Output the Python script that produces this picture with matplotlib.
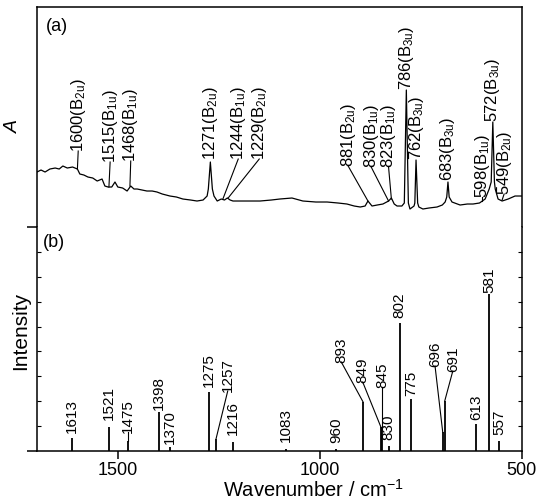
import matplotlib
matplotlib.use('Agg')
import matplotlib.pyplot as plt
from matplotlib.ticker import FixedLocator, NullLocator

plt.rcParams['font.family'] = ['Liberation Sans', 'DejaVu Sans']
plt.rcParams['mathtext.fontset'] = 'custom'
plt.rcParams['mathtext.rm'] = 'Liberation Sans'
plt.rcParams['mathtext.it'] = 'Liberation Sans:italic'

# (a) measured spectrum, wavenumber vs absorbance (arb. units)
spec_w = [1700, 1690, 1680, 1668, 1655, 1645, 1636, 1625, 1612, 1600, 1594, 1584,
          1574, 1562, 1551, 1539, 1532, 1524, 1515, 1507, 1500, 1488, 1477, 1468,
          1460, 1452, 1440, 1428, 1415, 1403, 1390, 1371, 1355, 1339, 1320, 1304,
          1289, 1279, 1276, 1271, 1266, 1262, 1254, 1244, 1236, 1229, 1222, 1215,
          1180, 1148, 1120, 1099, 1069, 1042, 1010, 982, 955, 933, 915, 900, 888,
          881, 871, 858, 844, 830, 823, 816, 809, 797, 791, 786, 781, 777, 767,
          765, 762, 758, 755, 745, 730, 710, 697, 690, 686, 683, 680, 673, 653,
          635, 621, 605, 598, 591, 581, 576, 572, 568, 566, 559, 549, 534, 517, 500]
spec_a = [55, 57, 55, 58, 59, 58, 61, 59, 60, 58, 53, 52,
          50, 49, 46, 48, 41, 40, 40, 45, 40, 39, 36, 41,
          38, 38, 37, 36, 36, 35, 33, 31, 30, 28, 27, 26,
          27, 31, 38, 65, 38, 31, 26, 28, 27, 29, 27, 26,
          26, 26, 27, 28, 29, 26, 25, 25, 24, 23, 21, 20, 21,
          26, 21, 22, 23, 26, 29, 23, 21, 21, 24, 137, 24, 18, 21,
          24, 67, 24, 20, 18, 19, 20, 22, 25, 30, 45, 30, 25, 22,
          23, 23, 24, 26, 28, 38, 45, 105, 45, 38, 28, 26, 28, 31, 31]

peak_labels = ['1600(B$_{\\mathrm{2u}}$)', '1515(B$_{\\mathrm{1u}}$)', '1468(B$_{\\mathrm{1u}}$)',
               '1271(B$_{\\mathrm{2u}}$)', '1244(B$_{\\mathrm{1u}}$)', '1229(B$_{\\mathrm{2u}}$)',
               '881(B$_{\\mathrm{2u}}$)', '830(B$_{\\mathrm{1u}}$)', '823(B$_{\\mathrm{1u}}$)',
               '786(B$_{\\mathrm{3u}}$)', '762(B$_{\\mathrm{3u}}$)', '683(B$_{\\mathrm{3u}}$)',
               '598(B$_{\\mathrm{1u}}$)', '572(B$_{\\mathrm{3u}}$)', '549(B$_{\\mathrm{2u}}$)']
peak_pos = [1600, 1522, 1470, 1271, 1240, 1227, 881, 830, 823, 786, 762, 683, 598, 572, 549]
peak_val = [58, 40, 41, 65, 28, 29, 26, 26, 28, 137, 67, 45, 26, 105, 27]
peak_text_x = [1598, 1519, 1468, 1271, 1202, 1150, 930, 873, 830, 786, 761, 683, 598, 572, 544]
peak_text_y = [76, 65, 66, 68, 68, 68, 61, 60, 60, 138, 68, 47, 30, 106, 33]

# (b) calculated sticks
stick_w = [1613, 1521, 1475, 1398, 1370, 1275, 1257, 1216, 1083, 960, 893,
           849, 845, 830, 802, 775, 696, 691, 613, 581, 557]
stick_h = [13, 24, 10, 39, 4, 59, 12, 9, 2, 2, 49,
           24, 24, 5, 128, 52, 19, 50, 27, 157, 10]
stick_text_x = [1613, 1521, 1475, 1398, 1370, 1275, 1228, 1216, 1083, 960, 947,
                894, 845, 830, 802, 775, 715, 671, 613, 581, 557]
stick_text_y = [19, 32, 19, 42, 8, 65, 60, 17, 10, 9, 89,
                69, 64, 12, 134, 56, 85, 80, 32, 159, 17]

fig = plt.figure(figsize=(5.4, 5.02), dpi=100)
ax_a = fig.add_axes([0.0685, 0.5458, 0.898, 0.4382])
ax_b = fig.add_axes([0.0685, 0.0996, 0.898, 0.4462])

for ax in (ax_a, ax_b):
    ax.set_xlim(1700, 500)
    for s in ax.spines.values():
        s.set_linewidth(1.1)

# ---- panel (a)
ax_a.plot(spec_w, spec_a, color='black', lw=0.9)
ax_a.set_ylim(0, 220)
ax_a.spines['bottom'].set_visible(False)
ax_a.xaxis.set_major_locator(NullLocator())
ax_a.yaxis.set_major_locator(NullLocator())
for lab, px, pv, tx, ty in zip(peak_labels, peak_pos, peak_val, peak_text_x, peak_text_y):
    if ty - pv > 3 or abs(tx - px) > 2:
        ax_a.plot([px, tx], [pv, ty], color='black', lw=0.8)
    ax_a.text(tx, ty, lab, rotation=90, ha='center', va='bottom', fontsize=12)
ax_a.text(0.018, 0.955, '(a)', transform=ax_a.transAxes, ha='left', va='top', fontsize=13)
ax_a.set_ylabel('A', fontsize=14, style='italic')
ax_a.yaxis.set_label_coords(-0.031, 0.46)

# ---- panel (b)
ax_b.vlines(stick_w, 0, stick_h, color='black', lw=1.3)
ax_b.set_ylim(0, 224)
ax_b.spines['top'].set_visible(False)
for lab, sx, sh, tx, ty in zip(stick_w, stick_w, stick_h, stick_text_x, stick_text_y):
    if abs(tx - sx) > 2 or ty - sh > 8:
        ax_b.plot([sx, tx], [sh, ty], color='black', lw=0.8)
    ax_b.text(tx, ty, str(lab), rotation=90, ha='center', va='bottom', fontsize=11)
ax_b.text(0.012, 0.975, '(b)', transform=ax_b.transAxes, ha='left', va='top', fontsize=13)

ax_b.set_xticks([1500, 1000, 500])
ax_b.tick_params(axis='x', which='major', direction='out', length=6, width=1.1,
                 labelsize=13, pad=1)
ax_b.yaxis.set_major_locator(FixedLocator([0, 224]))
ax_b.yaxis.set_minor_locator(FixedLocator([224 * k / 9 for k in range(1, 9)]))
ax_b.tick_params(axis='y', which='major', direction='out', length=7, width=1.1,
                 left=True, right=False, labelleft=False)
ax_b.tick_params(axis='y', which='minor', direction='in', length=3, width=0.8,
                 left=True, right=True)
ax_b.set_ylabel('Intensity', fontsize=15)
ax_b.yaxis.set_label_coords(-0.015, 0.54)
ax_b.set_xlabel('Wavenumber / cm$^{-1}$', fontsize=14.5, va='bottom')
ax_b.xaxis.set_label_coords(0.57, -0.216)

fig.savefig('out.png', dpi=100)
